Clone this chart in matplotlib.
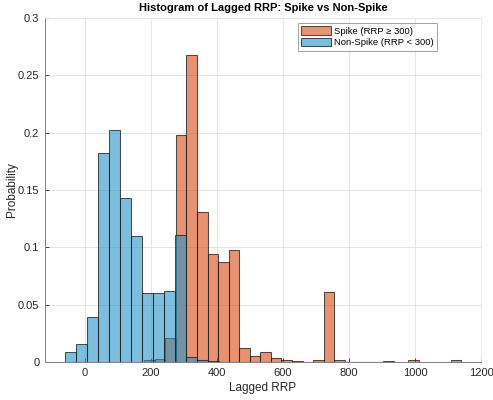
import numpy as np
import matplotlib
matplotlib.use("Agg")
import matplotlib.pyplot as plt

# Spike (lagged RRP) histogram: bin left edges start, width, probabilities
spike_start = 180
spike_width = 32
spike_prob = [0.0015, 0.003, 0.021, 0.198, 0.268, 0.1305, 0.0944, 0.0871, 0.0976,
              0.0122, 0.0052, 0.0087, 0.0035, 0.0017, 0.0005, 0.0, 0.0017, 0.0609,
              0.0017, 0.0, 0.0, 0.0, 0.0, 0.0, 0.0, 0.0017, 0.0, 0.0, 0.0, 0.0017]

# Non-spike histogram
nonspike_start = -59.2
nonspike_width = 33.2
nonspike_prob = [0.0085, 0.0155, 0.0393, 0.182, 0.2024, 0.1427, 0.1095, 0.0606,
                 0.0606, 0.0623, 0.1104, 0.0044, 0.0018, 0.0008, 0.0004, 0.0003,
                 0.0002, 0.0002, 0.0002, 0.0002, 0.0002, 0.0, 0.0, 0.0, 0.0, 0.0,
                 0.0, 0.0, 0.0, 0.0005]

xticks = [0, 200, 400, 600, 800, 1000, 1200]
yticks = [0, 0.05, 0.1, 0.15, 0.2, 0.25, 0.3]
ytick_labels = ["0", "0.05", "0.1", "0.15", "0.2", "0.25", "0.3"]

plt.rcParams['font.family'] = ['Liberation Sans', 'DejaVu Sans']

fig = plt.figure(figsize=(4.93, 4.00), dpi=100)
ax = fig.add_axes([45/493, 38/400, 436/493, 344/400])

orange = (0.85, 0.29, 0.07)
blue = (0.15, 0.58, 0.79)

s_edges = spike_start + spike_width * np.arange(len(spike_prob))
n_edges = nonspike_start + nonspike_width * np.arange(len(nonspike_prob))

ax.bar(s_edges, spike_prob, width=spike_width, align='edge',
       facecolor=orange + (0.6,), edgecolor=(0.1, 0.1, 0.1, 0.75), linewidth=0.75,
       label='Spike (RRP ≥ 300)', zorder=3)
ax.bar(n_edges, nonspike_prob, width=nonspike_width, align='edge',
       facecolor=blue + (0.6,), edgecolor=(0.1, 0.1, 0.1, 0.75), linewidth=0.75,
       label='Non-Spike (RRP < 300)', zorder=4)

ax.set_xlim(-120, 1200)
ax.set_ylim(0, 0.3)
ax.set_xticks(xticks)
ax.set_yticks(yticks)
ax.set_yticklabels(ytick_labels)
ax.tick_params(direction='in', length=3, width=0.6, labelsize=8,
               colors=(0.15, 0.15, 0.15), pad=4)
ax.grid(True, color=(0.88, 0.88, 0.88), linewidth=0.6, zorder=0)
ax.set_axisbelow(True)
for side in ['left', 'bottom']:
    ax.spines[side].set_color((0.5, 0.5, 0.5))
    ax.spines[side].set_linewidth(0.7)
for side in ['top', 'right']:
    ax.spines[side].set_color((0.9, 0.9, 0.9))
    ax.spines[side].set_linewidth(0.6)

ax.set_xlabel('Lagged RRP', fontsize=8.5, color=(0.15, 0.15, 0.15), labelpad=3)
ax.set_ylabel('Probability', fontsize=8.5, color=(0.15, 0.15, 0.15))
ax.yaxis.set_label_coords(-0.062, 0.5)
ax.set_title('Histogram of Lagged RRP: Spike vs Non-Spike', fontsize=8,
             fontweight='bold', pad=5)

leg = ax.legend(loc='upper right', bbox_to_anchor=(0.899, 0.985), fontsize=6.8,
                fancybox=False, frameon=True, edgecolor=(0.55, 0.55, 0.55),
                handlelength=3.2, handleheight=1.0, handletextpad=0.3,
                borderpad=0.35, labelspacing=0.2, borderaxespad=0)
leg.get_frame().set_linewidth(0.7)

fig.savefig('out.png', dpi=100)
